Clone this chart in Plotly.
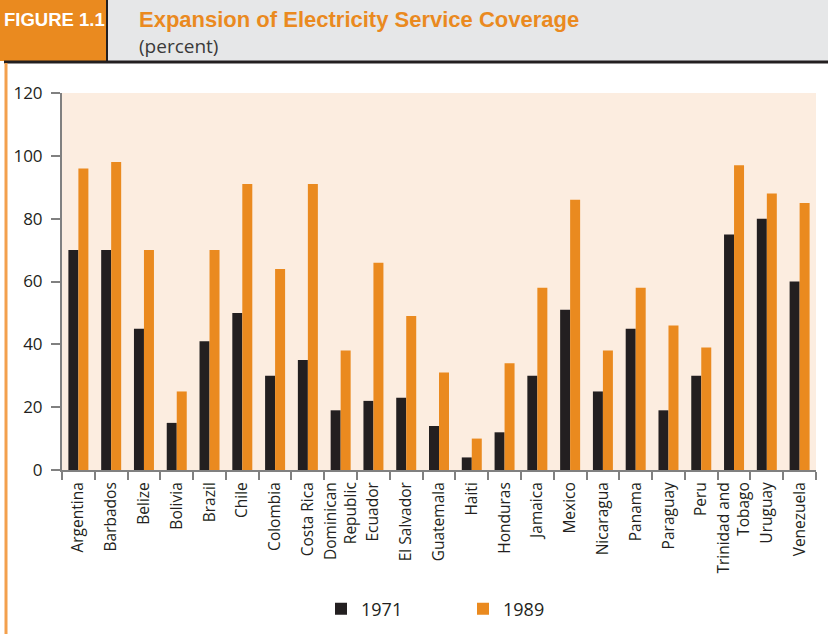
import plotly.graph_objects as go

# Electricity service coverage by country (percent of population)
countries = [
    "Argentina", "Barbados", "Belize", "Bolivia", "Brazil", "Chile", "Colombia",
    "Costa Rica", "Dominican<br>Republic", "Ecuador", "El Salvador", "Guatemala",
    "Haiti", "Honduras", "Jamaica", "Mexico", "Nicaragua", "Panama", "Paraguay",
    "Peru", "Trinidad and<br>Tobago", "Uruguay", "Venezuela",
]
coverage_1971 = [70, 70, 45, 15, 41, 50, 30, 35, 19, 22, 23, 14,
                 4, 12, 30, 51, 25, 45, 19, 30, 75, 80, 60]
coverage_1989 = [96, 98, 70, 25, 70, 91, 64, 91, 38, 66, 49, 31,
                 10, 34, 58, 86, 38, 58, 46, 39, 97, 88, 85]
y_ticks = [0, 20, 40, 60, 80, 100, 120]

W, H = 828, 634
ML, MR, MT, MB = 62, 12, 93, 164
PW, PH = W - ML - MR, H - MT - MB

DARK = "#231f20"
ORANGE = "#ea8a1f"
BODY_FONT = "Open Sans"
HEAD_FONT = "Liberation Sans, Arial"


def px_x(x):
    return (x - ML) / PW


def px_y(y):
    return (H - MB - y) / PH


fig = go.Figure()
fig.add_bar(x=countries, y=coverage_1971, name="1971", marker_color=DARK,
            marker_line_width=0)
fig.add_bar(x=countries, y=coverage_1989, name="1989", marker_color=ORANGE,
            marker_line_width=0)

shapes = [
    # header band
    dict(type="rect", xref="paper", yref="paper", layer="below",
         x0=px_x(0), x1=px_x(W), y0=px_y(0), y1=px_y(61),
         fillcolor="#e6e7e8", line_width=0),
    dict(type="rect", xref="paper", yref="paper", layer="below",
         x0=px_x(0), x1=px_x(106), y0=px_y(0), y1=px_y(61),
         fillcolor=ORANGE, line_width=0),
    dict(type="line", xref="paper", yref="paper",
         x0=px_x(107), x1=px_x(107), y0=px_y(0), y1=px_y(62),
         line=dict(color=DARK, width=2)),
    dict(type="line", xref="paper", yref="paper",
         x0=px_x(4), x1=px_x(W), y0=px_y(62), y1=px_y(62),
         line=dict(color=DARK, width=3)),
    # left rule
    dict(type="line", xref="paper", yref="paper",
         x0=px_x(6), x1=px_x(6), y0=px_y(63), y1=px_y(H),
         line=dict(color="#f3a04d", width=3)),
]

annotations = [
    dict(text="<b>FIGURE 1.1</b>", xref="paper", yref="paper",
         x=px_x(54), y=px_y(20), xanchor="center", yanchor="middle",
         showarrow=False,
         font=dict(family=HEAD_FONT, size=18.5, color="white")),
    dict(text="<b>Expansion of Electricity Service Coverage</b>",
         xref="paper", yref="paper", x=px_x(137), y=px_y(20),
         xanchor="left", yanchor="middle", showarrow=False,
         font=dict(family=HEAD_FONT, size=22, color=ORANGE)),
    dict(text="(percent)", xref="paper", yref="paper", x=px_x(137), y=px_y(46),
         xanchor="left", yanchor="middle", showarrow=False,
         font=dict(family=BODY_FONT, size=19, color="#3a3a3a")),
]

fig.update_layout(
    width=W, height=H,
    margin=dict(l=ML, r=MR, t=MT, b=MB, pad=0, autoexpand=False),
    paper_bgcolor="white",
    plot_bgcolor="#fcede0",
    barmode="group",
    bargap=0.39,
    bargroupgap=0,
    font=dict(family=BODY_FONT, color=DARK),
    shapes=shapes,
    annotations=annotations,
    showlegend=True,
    legend=dict(orientation="h", xref="container", yref="container",
                x=321 / W, y=1 - 609 / H,
                xanchor="left", yanchor="middle",
                entrywidth=97, entrywidthmode="pixels",
                font=dict(size=18, color=DARK), bgcolor="rgba(0,0,0,0)"),
)

fig.update_xaxes(
    type="category", tickangle=-90, tickson="boundaries",
    ticks="outside", ticklen=8, tickwidth=2, tickcolor="#808080",
    ticklabelstandoff=4,
    showline=True, linecolor="#808080", linewidth=2,
    showgrid=False, tickfont=dict(size=15.5, color=DARK),
)
fig.update_yaxes(
    range=[0, 120], tickvals=y_ticks,
    ticks="outside", ticklen=9, tickwidth=2, tickcolor="#808080",
    ticklabelstandoff=5,
    showline=True, linecolor="#808080", linewidth=2,
    showgrid=False, zeroline=False, tickfont=dict(size=17, color=DARK),
)

fig.write_html("out.html")
